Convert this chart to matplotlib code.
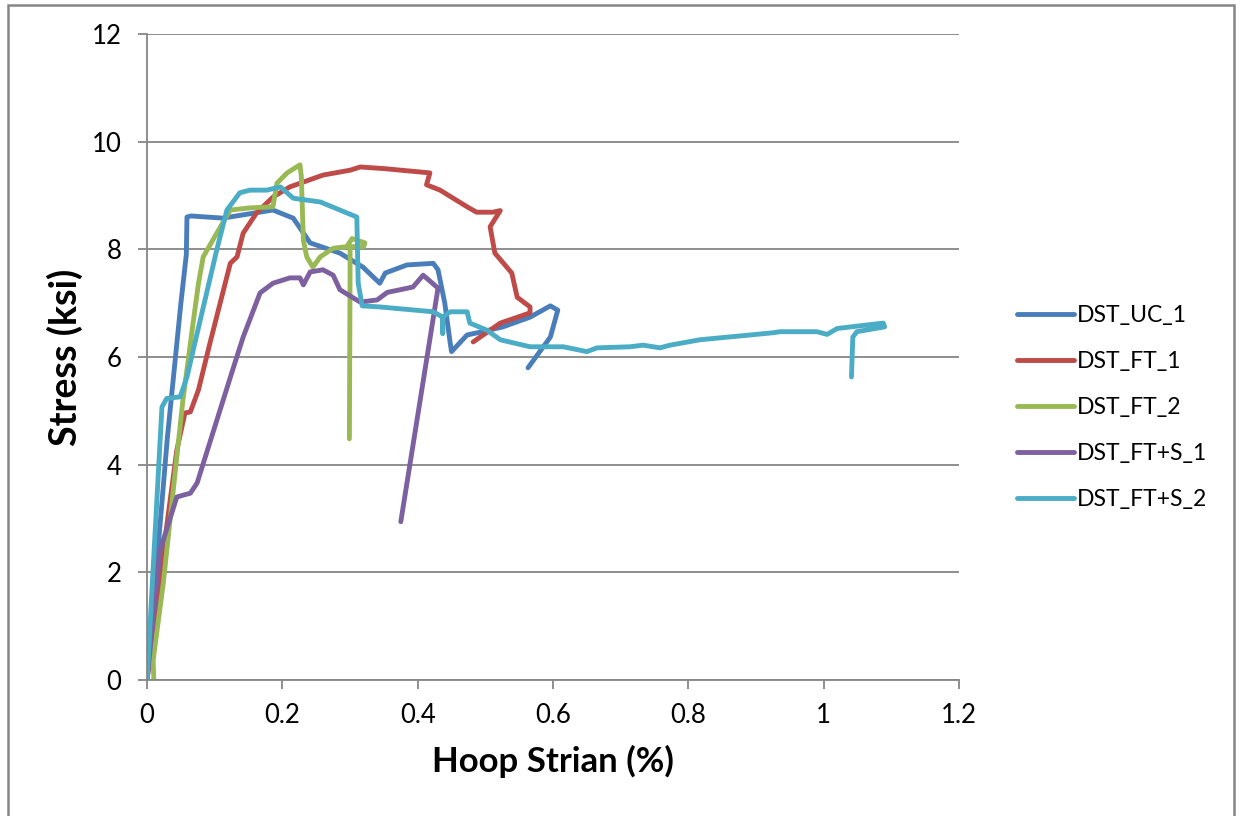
import matplotlib.pyplot as plt
from matplotlib.patches import Rectangle

plt.rcParams['font.family'] = ['Lato', 'DejaVu Sans']

# hoop strain (%) and stress (ksi) for each specimen
uc1_x = [0.0, 0.01, 0.03, 0.05, 0.058, 0.059, 0.065, 0.112, 0.186, 0.216, 0.241,
         0.285, 0.319, 0.344, 0.352, 0.384, 0.423, 0.430, 0.440, 0.448, 0.450,
         0.473, 0.492, 0.526, 0.566, 0.596, 0.607, 0.596, 0.563]
uc1_y = [0.0, 1.5, 4.5, 7.0, 7.9, 8.6, 8.62, 8.58, 8.73, 8.58, 8.12,
         7.93, 7.67, 7.37, 7.56, 7.71, 7.74, 7.62, 7.0, 6.26, 6.1,
         6.41, 6.46, 6.56, 6.74, 6.95, 6.87, 6.37, 5.8]

ft1_x = [0.0, 0.02, 0.044, 0.056, 0.064, 0.076, 0.093, 0.108, 0.123, 0.133, 0.142,
         0.162, 0.186, 0.211, 0.260, 0.300, 0.315, 0.35, 0.418, 0.413, 0.433,
         0.473, 0.487, 0.511, 0.522, 0.507, 0.514, 0.539, 0.547, 0.566, 0.566,
         0.522, 0.482]
ft1_y = [0.0, 2.0, 4.27, 4.96, 4.98, 5.39, 6.26, 7.0, 7.74, 7.86, 8.3,
         8.68, 8.97, 9.16, 9.38, 9.47, 9.53, 9.5, 9.42, 9.2, 9.1,
         8.79, 8.69, 8.69, 8.72, 8.42, 7.93, 7.56, 7.11, 6.93, 6.82,
         6.63, 6.28]

ft2_x = [0.01, 0.009, 0.024, 0.053, 0.068, 0.076, 0.083, 0.103, 0.123, 0.152, 0.186,
         0.192, 0.207, 0.226, 0.228, 0.231, 0.236, 0.245, 0.256, 0.275, 0.295,
         0.303, 0.322, 0.320, 0.300, 0.300, 0.299]
ft2_y = [0.0, 0.37, 1.8, 5.2, 6.63, 7.37, 7.86, 8.3, 8.73, 8.77, 8.79,
         9.23, 9.42, 9.57, 9.35, 8.17, 7.86, 7.67, 7.86, 8.02, 8.05,
         8.2, 8.12, 8.05, 8.05, 7.5, 4.48]

fts1_x = [0.0, 0.019, 0.044, 0.064, 0.074, 0.086, 0.108, 0.125, 0.142, 0.167, 0.186,
          0.211, 0.226, 0.231, 0.241, 0.26, 0.275, 0.285, 0.315, 0.34, 0.355,
          0.393, 0.408, 0.43, 0.375]
fts1_y = [0.0, 2.4, 3.4, 3.47, 3.66, 4.14, 5.02, 5.7, 6.37, 7.19, 7.37,
          7.47, 7.47, 7.34, 7.58, 7.62, 7.52, 7.25, 7.02, 7.06, 7.2,
          7.3, 7.52, 7.28, 2.94]

fts2_x = [0.0, 0.022, 0.029, 0.049, 0.059, 0.074, 0.089, 0.103, 0.118, 0.137, 0.152,
          0.177, 0.197, 0.216, 0.256, 0.285, 0.310, 0.312, 0.318, 0.344, 0.423,
          0.437, 0.437, 0.437, 0.448, 0.473, 0.477, 0.502, 0.522, 0.566, 0.615,
          0.65, 0.665, 0.714, 0.733, 0.758, 0.773, 0.817, 0.925, 0.935, 0.99,
          1.005, 1.02, 1.088, 1.09, 1.049, 1.043, 1.041]
fts2_y = [0.0, 5.07, 5.23, 5.26, 5.63, 6.44, 7.24, 7.99, 8.73, 9.05, 9.1,
          9.1, 9.16, 8.95, 8.88, 8.73, 8.6, 7.37, 6.95, 6.93, 6.84,
          6.74, 6.44, 6.74, 6.84, 6.84, 6.63, 6.5, 6.32, 6.19, 6.19,
          6.1, 6.17, 6.19, 6.22, 6.17, 6.22, 6.32, 6.45, 6.47, 6.47,
          6.42, 6.53, 6.63, 6.56, 6.47, 6.37, 5.63]

names = ['DST_UC_1', 'DST_FT_1', 'DST_FT_2', 'DST_FT+S_1', 'DST_FT+S_2']
colors = ['#4A7EBB', '#BE4B48', '#98B954', '#7D60A0', '#4BACC6']
xs = [uc1_x, ft1_x, ft2_x, fts1_x, fts2_x]
ys = [uc1_y, ft1_y, ft2_y, fts1_y, fts2_y]

fig = plt.figure(figsize=(12.41, 8.16), dpi=100)
ax = fig.add_axes([0.1185, 0.1667, 0.6543, 0.7916])

for x, y, c, n in zip(xs, ys, colors, names):
    ax.plot(x, y, color=c, lw=3.5, label=n, solid_joinstyle='round', solid_capstyle='round')

ax.set_xlim(0, 1.2)
ax.set_ylim(0, 12)
ax.set_xticks([0, 0.2, 0.4, 0.6, 0.8, 1, 1.2])
ax.set_xticklabels(['0', '0.2', '0.4', '0.6', '0.8', '1', '1.2'])
ax.set_yticks(range(0, 13, 2))
ax.grid(axis='y', color='#868686', lw=1.3)
ax.set_axisbelow(True)
for s in ['top', 'right']:
    ax.spines[s].set_visible(False)
for s in ['left', 'bottom']:
    ax.spines[s].set_color('#868686')
    ax.spines[s].set_linewidth(1.3)
ax.tick_params(colors='#868686', labelcolor='black', labelsize=18.5, length=6.5, width=1.3)
ax.tick_params(axis='x', pad=10)
ax.tick_params(axis='y', pad=12)

ax.set_xlabel('Hoop Strian (%)', fontsize=25, fontweight='bold', labelpad=12)
ax.set_ylabel('Stress (ksi)', fontsize=27, fontweight='bold', labelpad=6)

ax.legend(loc='upper left', bbox_to_anchor=(1.046, 0.613), frameon=False, fontsize=16.5,
          handlelength=2.5, handletextpad=0.1, labelspacing=1.1)

fig.add_artist(Rectangle((8 / 1241, -0.1), 1226 / 1241, 1.1 - 5 / 816, transform=fig.transFigure,
                         fill=False, edgecolor='#868686', lw=1.8))

fig.savefig('out.png', dpi=100)
